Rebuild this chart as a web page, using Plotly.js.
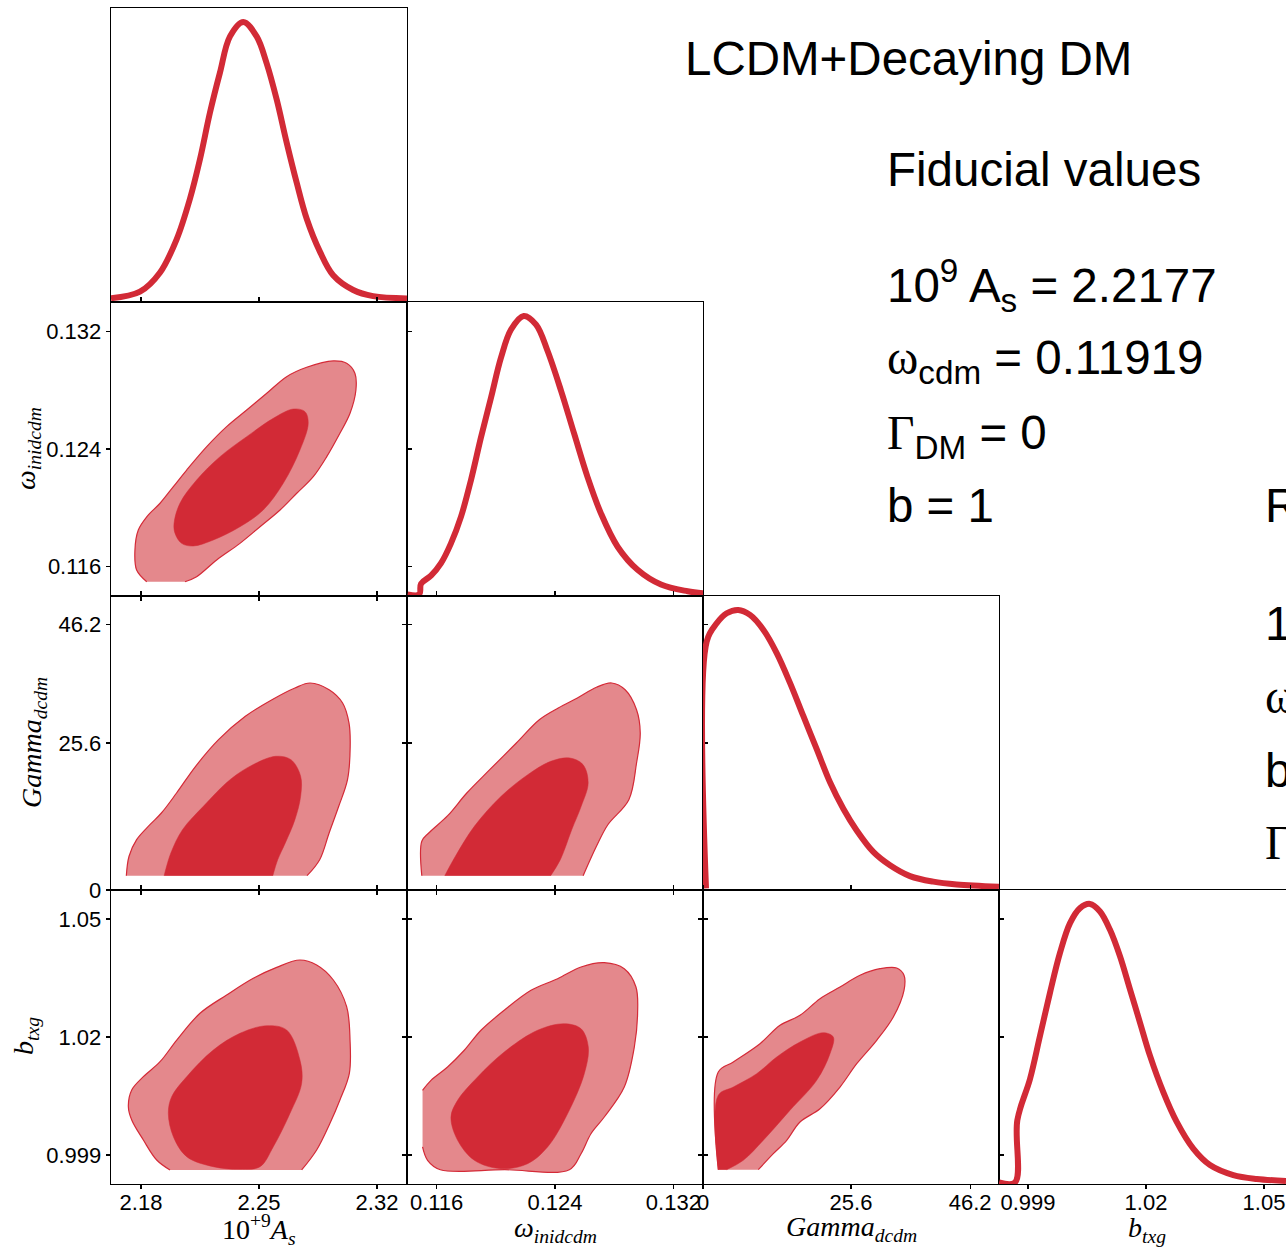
<!DOCTYPE html>
<html>
<head>
<meta charset="utf-8">
<script src="https://cdn.plot.ly/plotly-3.0.1.min.js"></script>
<style>
html,body{margin:0;padding:0;background:#fff;}
#chart{width:1286px;height:1249px;}
</style>
</head>
<body>
<div id="chart"></div>
<script>
// ---------------- DATA ----------------
// Tick values
const ticksAs = [2.18, 2.25, 2.32];
const ticksOmega = [0.116, 0.124, 0.132];
const ticksGamma = [0, 25.6, 46.2];
const ticksB = [0.999, 1.0245, 1.05];
const tickLabelsB = ['0.999', '1.02', '1.05'];

// 1D marginal posteriors (normalised to peak = 1)
const pdfAs_x = [2.1622, 2.1794, 2.1913, 2.2012, 2.2090, 2.2150, 2.2209, 2.2268, 2.2328, 2.2407, 2.2486, 2.2545, 2.2605, 2.2664, 2.2723, 2.2783, 2.2862, 2.2940, 2.3059, 2.3177, 2.3379];
const pdfAs_p = [0.007, 0.031, 0.100, 0.220, 0.364, 0.507, 0.674, 0.817, 0.948, 1.000, 0.948, 0.852, 0.721, 0.567, 0.424, 0.293, 0.174, 0.090, 0.037, 0.015, 0.007];

const pdfOmega_x = [0.11404, 0.11483, 0.11495, 0.11562, 0.11630, 0.11697, 0.11765, 0.11832, 0.11900, 0.11968, 0.12035, 0.12103, 0.12188, 0.12272, 0.12350, 0.12441, 0.12530, 0.12620, 0.12711, 0.12823, 0.12958, 0.13116, 0.13296, 0.13409];
const pdfOmega_p = [0, 0, 0.038, 0.067, 0.112, 0.183, 0.279, 0.410, 0.564, 0.707, 0.850, 0.951, 1.000, 0.969, 0.874, 0.731, 0.576, 0.421, 0.290, 0.171, 0.088, 0.035, 0.011, 0.003];

const pdfGamma_x = [0.52, 0.64, 2.370, 4.100, 6.106, 8.130, 10.431, 12.749, 15.049, 17.350, 19.668, 21.969, 24.269, 26.587, 29.459, 32.347, 35.807, 39.838, 43.885, 51.2];
const pdfGamma_p = [0, 0.887, 0.952, 0.988, 1.000, 0.982, 0.929, 0.845, 0.738, 0.619, 0.500, 0.381, 0.286, 0.208, 0.131, 0.083, 0.044, 0.024, 0.014, 0.006];

const pdfB_x = [0.99273, 0.99620, 0.99669, 0.99943, 1.00159, 1.00375, 1.00591, 1.00808, 1.01024, 1.01240, 1.01456, 1.01672, 1.01888, 1.02104, 1.02320, 1.02536, 1.02824, 1.03114, 1.03472, 1.03833, 1.04337, 1.04843, 1.05476];
const pdfB_p = [0, 0, 0.223, 0.371, 0.526, 0.681, 0.824, 0.931, 0.985, 1.000, 0.973, 0.907, 0.812, 0.693, 0.574, 0.455, 0.324, 0.217, 0.121, 0.062, 0.026, 0.012, 0.005];

// 2D credible-region boundaries (95% outer, 68% inner)
const c95_As_omega_x = [2.1834, 2.1774, 2.1764, 2.1784, 2.1834, 2.1913, 2.1992, 2.2071, 2.2190, 2.2308, 2.2427, 2.2546, 2.2664, 2.2783, 2.2941, 2.3020, 2.3069, 2.3075, 2.3040, 2.2980, 2.2902, 2.2822, 2.2724, 2.2625, 2.2506, 2.2387, 2.2249, 2.2130, 2.2061];
const c95_As_omega_y = [0.11497, 0.11577, 0.11713, 0.11849, 0.11939, 0.12031, 0.12144, 0.12257, 0.12416, 0.12552, 0.12665, 0.12779, 0.12892, 0.12956, 0.12999, 0.12983, 0.12915, 0.12801, 0.12643, 0.12507, 0.12348, 0.12212, 0.12099, 0.11985, 0.11871, 0.11758, 0.11645, 0.11531, 0.11497];
const c68_As_omega_x = [2.2002, 2.2041, 2.2110, 2.2229, 2.2387, 2.2525, 2.2644, 2.2743, 2.2792, 2.2773, 2.2703, 2.2585, 2.2427, 2.2269, 2.2130, 2.2031, 2.1996, 2.2002];
const c68_As_omega_y = [0.11826, 0.11758, 0.11740, 0.11781, 0.11871, 0.11985, 0.12167, 0.12393, 0.12575, 0.12654, 0.12672, 0.12609, 0.12484, 0.12348, 0.12189, 0.12031, 0.11894, 0.11826];

const c95_As_Gamma_x = [2.1713, 2.1729, 2.1774, 2.1853, 2.1921, 2.2011, 2.2124, 2.2260, 2.2419, 2.2577, 2.2713, 2.2803, 2.2916, 2.2996, 2.3034, 2.3041, 2.3025, 2.2973, 2.2916, 2.2860, 2.2785];
const c95_As_Gamma_y = [2.49, 5.87, 8.76, 11.37, 13.41, 16.89, 21.54, 26.18, 30.25, 33.14, 35.18, 36.05, 34.88, 32.57, 29.08, 25.03, 19.21, 14.58, 9.93, 5.28, 2.49];
const c68_As_Gamma_x = [2.1937, 2.1977, 2.2046, 2.2170, 2.2328, 2.2464, 2.2600, 2.2690, 2.2747, 2.2747, 2.2713, 2.2656, 2.2611, 2.2582];
const c68_As_Gamma_y = [2.49, 6.44, 10.50, 14.58, 19.21, 21.82, 23.29, 22.69, 19.80, 16.32, 12.24, 8.19, 5.28, 2.49];

const c95_omega_Gamma_x = [0.11500, 0.11500, 0.11547, 0.11675, 0.11804, 0.11959, 0.12139, 0.12294, 0.12422, 0.12551, 0.12680, 0.12783, 0.12874, 0.12951, 0.12976, 0.12951, 0.12899, 0.12757, 0.12680, 0.12590];
const c95_omega_Gamma_y = [2.49, 8.48, 9.93, 12.94, 16.89, 20.95, 25.60, 29.66, 31.70, 33.44, 35.30, 36.05, 34.88, 31.40, 27.34, 22.12, 15.73, 11.37, 7.61, 2.49];
const c68_omega_Gamma_x = [0.11655, 0.11727, 0.11855, 0.12036, 0.12216, 0.12371, 0.12500, 0.12590, 0.12624, 0.12577, 0.12513, 0.12436, 0.12371];
const c68_omega_Gamma_y = [2.49, 5.87, 11.09, 16.32, 20.08, 22.41, 22.99, 21.82, 18.64, 14.58, 10.50, 5.28, 2.49];

const c95_As_b_x = [2.1972, 2.1893, 2.1814, 2.1745, 2.1725, 2.1745, 2.1814, 2.1913, 2.2012, 2.2150, 2.2308, 2.2466, 2.2605, 2.2743, 2.2842, 2.2941, 2.3020, 2.3040, 2.3036, 2.2980, 2.2921, 2.2842, 2.2753];
const c95_As_b_y = [0.99576, 0.99792, 1.00224, 1.00656, 1.00944, 1.01305, 1.01592, 1.01916, 1.02385, 1.02962, 1.03358, 1.03719, 1.03956, 1.04114, 1.04006, 1.03682, 1.03105, 1.02385, 1.01665, 1.01088, 1.00585, 1.00008, 0.99576];
const c68_As_b_x = [2.1962, 2.1992, 2.2071, 2.2229, 2.2387, 2.2506, 2.2585, 2.2684, 2.2753, 2.2743, 2.2664, 2.2546, 2.2387, 2.2229, 2.2071, 2.1982, 2.1962];
const c68_As_b_y = [1.00801, 1.00295, 0.99863, 0.99647, 0.99591, 0.99647, 1.00079, 1.00801, 1.01449, 1.01953, 1.02601, 1.02694, 1.02530, 1.02169, 1.01592, 1.01160, 1.00801];

const c95_omega_b_x = [0.11505, 0.11562, 0.11674, 0.11787, 0.11900, 0.12057, 0.12238, 0.12418, 0.12576, 0.12733, 0.12868, 0.12947, 0.12958, 0.12936, 0.12868, 0.12733, 0.12643, 0.12576, 0.12497, 0.12060, 0.11625, 0.11539, 0.11505];
const c95_omega_b_y = [1.01298, 1.01514, 1.01802, 1.02163, 1.02595, 1.03027, 1.03459, 1.03710, 1.03963, 1.04056, 1.03926, 1.03531, 1.02954, 1.02234, 1.01369, 1.00721, 1.00360, 0.99928, 0.99582, 0.99582, 0.99582, 0.99785, 1.00073];
const c68_omega_b_x = [0.11697, 0.11742, 0.11855, 0.12035, 0.12215, 0.12350, 0.12485, 0.12598, 0.12625, 0.12576, 0.12463, 0.12282, 0.12057, 0.11877, 0.11742, 0.11697];
const c68_omega_b_y = [1.00721, 1.00218, 0.99785, 0.99604, 0.99712, 1.00073, 1.00792, 1.01657, 1.02234, 1.02629, 1.02737, 1.02595, 1.02126, 1.01586, 1.01082, 1.00721];

const c95_Gamma_b_x = [2.647, 2.647, 5.241, 9.860, 13.320, 16.779, 20.239, 23.698, 27.158, 30.618, 33.506, 34.769, 34.769, 32.918, 30.047, 26.587, 23.698, 20.239, 16.779, 14.479, 12.161, 9.566];
const c95_Gamma_b_y = [0.99582, 1.01694, 1.01910, 1.02305, 1.02703, 1.02919, 1.03278, 1.03531, 1.03784, 1.03926, 1.03941, 1.03784, 1.03459, 1.02882, 1.02379, 1.01873, 1.01369, 1.00900, 1.00613, 1.00218, 0.99928, 0.99582];
const c68_Gamma_b_x = [2.647, 2.647, 5.241, 9.289, 12.749, 16.779, 20.810, 22.539, 21.969, 19.668, 15.049, 10.431, 6.971, 4.100];
const c68_Gamma_b_y = [0.99582, 1.01190, 1.01369, 1.01657, 1.02018, 1.02342, 1.02543, 1.02450, 1.02089, 1.01514, 1.00866, 1.00218, 0.99785, 0.99582];

// ---------------- STYLE / LAYOUT ----------------
const W = 1286, H = 1249;
const SANS = 'Liberation Sans, Arial, sans-serif';
const SERIF = 'Liberation Serif, Times New Roman, serif';
const RED = '#d22a36';
const RED_EDGE = '#d42a37';
const RED_LIGHT = '#e4888c';

const colEdges = [111, 407, 703, 999, 1286];
const rowEdges = [8, 302, 596, 890, 1184];

const axisInfo = {
  As:    {range: [2.1622, 2.3378], tickvals: ticksAs, ticktext: ticksAs.map(String)},
  omega: {range: [0.1140, 0.1340], tickvals: ticksOmega, ticktext: ticksOmega.map(String)},
  Gamma: {range: [0, 51.2], tickvals: ticksGamma, ticktext: ticksGamma.map(String)},
  b:     {range: [0.99273, 1.05627], tickvals: ticksB, ticktext: tickLabelsB}
};
const bXRange = [0.99273, 1.05476];

const pdfs = {
  As: [pdfAs_x, pdfAs_p], omega: [pdfOmega_x, pdfOmega_p],
  Gamma: [pdfGamma_x, pdfGamma_p], b: [pdfB_x, pdfB_p]
};
const contours = {
  'As|omega': [[c95_As_omega_x, c95_As_omega_y], [c68_As_omega_x, c68_As_omega_y]],
  'As|Gamma': [[c95_As_Gamma_x, c95_As_Gamma_y], [c68_As_Gamma_x, c68_As_Gamma_y]],
  'omega|Gamma': [[c95_omega_Gamma_x, c95_omega_Gamma_y], [c68_omega_Gamma_x, c68_omega_Gamma_y]],
  'As|b': [[c95_As_b_x, c95_As_b_y], [c68_As_b_x, c68_As_b_y]],
  'omega|b': [[c95_omega_b_x, c95_omega_b_y], [c68_omega_b_x, c68_omega_b_y]],
  'Gamma|b': [[c95_Gamma_b_x, c95_Gamma_b_y], [c68_Gamma_b_x, c68_Gamma_b_y]]
};

const panels = [
  {r:0, c:0, xp:'As'},
  {r:1, c:0, xp:'As', yp:'omega'},
  {r:1, c:1, xp:'omega'},
  {r:2, c:0, xp:'As', yp:'Gamma'},
  {r:2, c:1, xp:'omega', yp:'Gamma'},
  {r:2, c:2, xp:'Gamma'},
  {r:3, c:0, xp:'As', yp:'b'},
  {r:3, c:1, xp:'omega', yp:'b'},
  {r:3, c:2, xp:'Gamma', yp:'b'},
  {r:3, c:3, xp:'b'}
];

function baseAxis() {
  return {
    showgrid: false, zeroline: false, showline: true, linecolor: '#000', linewidth: 1.3,
    ticks: 'outside', ticklen: 4, tickwidth: 1.1, tickcolor: '#000',
    tickfont: {family: SANS, size: 22, color: '#000'}, tickmode: 'array',
    ticklabeloverflow: 'allow', fixedrange: true
  };
}

const traces = [];
const layout = {
  width: W, height: H, margin: {l:0, r:0, t:0, b:0},
  showlegend: false, paper_bgcolor: '#fff', plot_bgcolor: '#fff',
  font: {family: SANS, color: '#000'}, annotations: []
};

panels.forEach((p, i) => {
  const k = i + 1;
  const sx = k === 1 ? '' : String(k);
  const diag = !p.yp;
  const xi = axisInfo[p.xp];
  const xa = Object.assign(baseAxis(), {
    domain: [colEdges[p.c] / W, colEdges[p.c + 1] / W],
    anchor: 'y' + sx,
    range: p.c === 3 ? bXRange : xi.range,
    tickvals: xi.tickvals, ticktext: xi.ticktext,
    showticklabels: p.r === 3,
    ticks: (diag && p.r !== 3) ? '' : 'outside',
    mirror: diag ? true : 'ticks',
    ticklabelstandoff: -6
  });
  const ya = Object.assign(baseAxis(), {
    domain: [1 - rowEdges[p.r + 1] / H, 1 - rowEdges[p.r] / H],
    anchor: 'x' + sx,
    range: diag ? [-0.006, 1.05] : axisInfo[p.yp].range,
    showticklabels: !diag && p.c === 0,
    ticks: diag ? '' : 'outside',
    mirror: diag ? (p.c !== 3) : 'ticks'
  });
  if (!diag) { ya.tickvals = axisInfo[p.yp].tickvals; ya.ticktext = axisInfo[p.yp].ticktext; }
  layout['xaxis' + sx] = xa;
  layout['yaxis' + sx] = ya;

  if (diag) {
    const d = pdfs[p.xp];
    traces.push({type:'scatter', mode:'lines', x:d[0], y:d[1], xaxis:'x'+sx, yaxis:'y'+sx,
      line:{color:RED, width:6, shape:'spline', smoothing:1.0}, hoverinfo:'skip'});
  } else {
    const c = contours[p.xp + '|' + p.yp];
    traces.push({type:'scatter', mode:'lines', x:c[0][0], y:c[0][1], xaxis:'x'+sx, yaxis:'y'+sx,
      fill:'toself', fillcolor:RED_LIGHT, line:{color:RED_EDGE, width:1.2, shape:'spline', smoothing:1.0}, hoverinfo:'skip'});
    traces.push({type:'scatter', mode:'lines', x:c[1][0], y:c[1][1], xaxis:'x'+sx, yaxis:'y'+sx,
      fill:'toself', fillcolor:RED, line:{color:RED, width:0.5, shape:'spline', smoothing:1.0}, hoverinfo:'skip'});
  }
});

function ann(text, px, py, opts) {
  return Object.assign({text: text, x: px / W, y: 1 - py / H, xref:'paper', yref:'paper',
    showarrow:false, xanchor:'center', yanchor:'middle'}, opts || {});
}
const titleFont = {family: SERIF, size: 28, color: '#000'};
const bigFont = {family: SANS, size: 47.5, color: '#000'};
const om = '<span style="font-family:Liberation Serif">ω</span>';
const Gm = '<span style="font-family:Liberation Serif">Γ</span>';

// axis titles
layout.annotations.push(
  ann('10<sup>+9</sup><i>A</i><sub><i>s</i></sub>', 259, 1229, {font: titleFont}),
  ann('<i>ω</i><sub><i>inidcdm</i></sub>', 555, 1229, {font: titleFont}),
  ann('<i>Gamma</i><sub><i>dcdm</i></sub>', 851, 1228, {font: titleFont}),
  ann('<i>b</i><sub><i>txg</i></sub>', 1147, 1229, {font: titleFont}),
  ann('<i>ω</i><sub><i>inidcdm</i></sub>', 27, 449, {font: titleFont, textangle: -90}),
  ann('<i>Gamma</i><sub><i>dcdm</i></sub>', 33, 743, {font: titleFont, textangle: -90}),
  ann('<i>b</i><sub><i>txg</i></sub>', 25, 1036, {font: titleFont, textangle: -90})
);

// text block
const L = {xanchor:'left', font: bigFont};
layout.annotations.push(
  ann('LCDM+Decaying DM', 683, 58, L),
  ann('Fiducial values', 885, 170, L),
  ann('10<sup>9</sup> A<sub>s</sub> = 2.2177', 885, 286, L),
  ann(om + '<sub>cdm</sub> = 0.11919', 885, 361, L),
  ann(Gm + '<sub>DM</sub> = 0', 885, 436, L),
  ann('b = 1', 885, 505, L),
  ann('R', 1263, 505, L),
  ann('1', 1263, 623, L),
  ann(om, 1263, 697, L),
  ann('b', 1263, 770, L),
  ann(Gm, 1263, 843, L)
);

Plotly.newPlot('chart', traces, layout, {displayModeBar:false, staticPlot:true});
</script>
</body>
</html>
